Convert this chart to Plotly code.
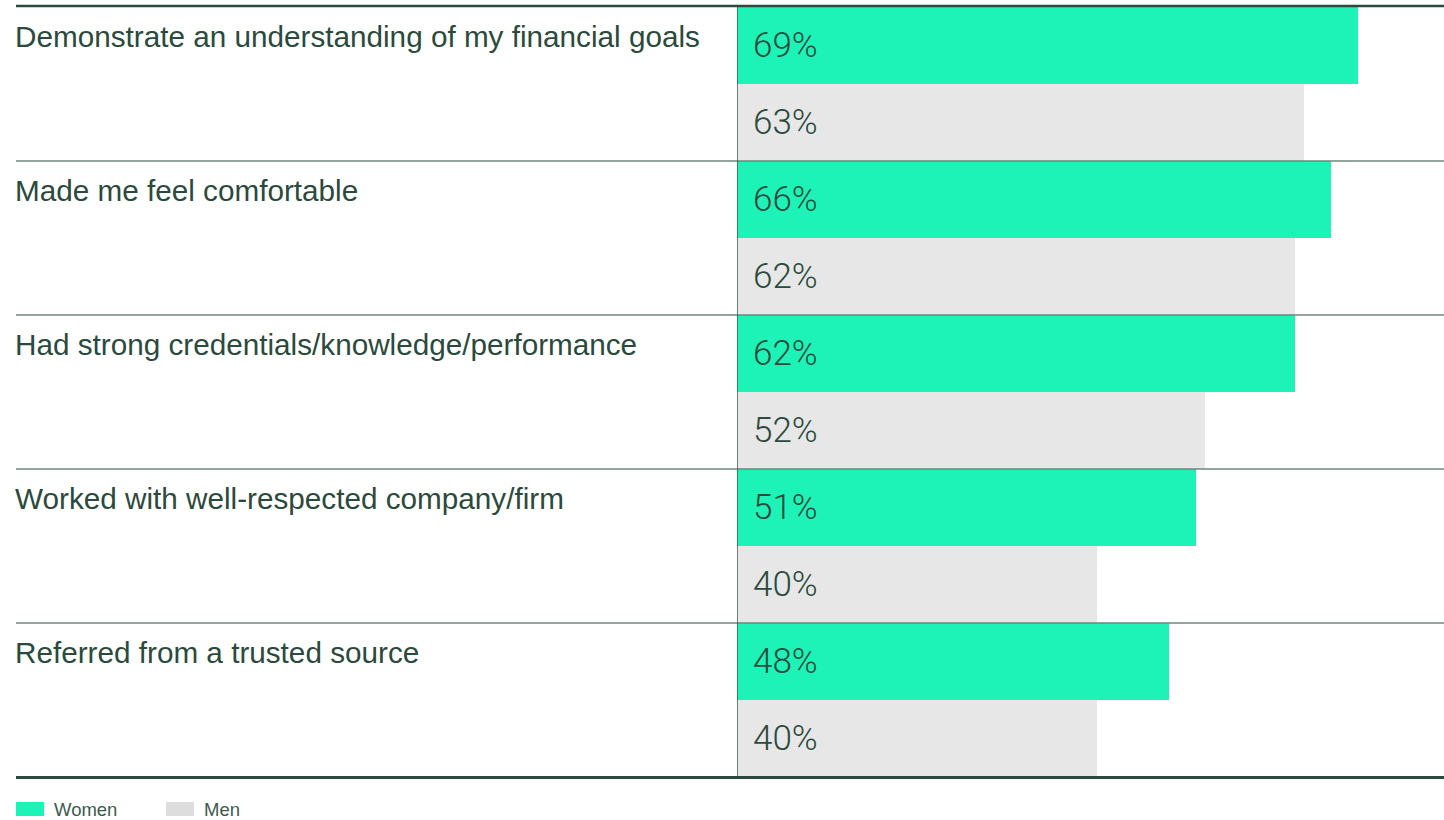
import plotly.graph_objects as go

categories = [
    "Demonstrate an understanding of my financial goals",
    "Made me feel comfortable",
    "Had strong credentials/knowledge/performance",
    "Worked with well-respected company/firm",
    "Referred from a trusted source",
]
women = [69, 66, 62, 51, 48]
men = [63, 62, 52, 40, 40]
series_names = ["Women", "Men"]

GREEN = "#1df3b7"
GREY = "#e7e7e7"
DARK = "#2b4a3d"
SEP = "#71847a"

W, H = 1444, 820
L, R, T, B = 737, 0, 7, 43
PW = W - L - R
PH = H - T - B
XMAX = PW / 9.0


def px_x(p):
    return (p - L) / PW


def px_y(p):
    return (H - B - p) / PH


fig = go.Figure()
fig.add_trace(go.Bar(name=series_names[0], y=categories, x=women, orientation="h",
                     marker=dict(color=GREEN, line=dict(width=0)), hoverinfo="x+name"))
fig.add_trace(go.Bar(name=series_names[1], y=categories, x=men, orientation="h",
                     marker=dict(color=GREY, line=dict(width=0)), hoverinfo="x+name"))

annotations = []
shapes = []
n = len(categories)
for i, cat in enumerate(categories):
    annotations.append(dict(x=px_x(13), xref="paper", y=i - 0.5, yref="y",
                            text=cat, showarrow=False, xanchor="left", yanchor="top",
                            yshift=-11, font=dict(family="Liberation Sans, Arial", size=29.7, color=DARK)))
    for off, vals in ((-0.25, women), (0.25, men)):
        annotations.append(dict(x=0, xref="x", y=i + off, yref="y",
                                text=f"{vals[i]}%", showarrow=False, xanchor="left",
                                yanchor="middle", xshift=14,
                                font=dict(family="Roboto, Noto Sans", size=35, weight=300, color=DARK)))
    if i < n - 1:
        shapes.append(dict(type="line", xref="paper", yref="y", x0=px_x(16), x1=1,
                           y0=i + 0.5, y1=i + 0.5, line=dict(color=SEP, width=1.3)))

# vertical axis line
shapes.append(dict(type="line", xref="x", yref="paper", x0=0, x1=0, y0=0, y1=1,
                   line=dict(color=DARK, width=1.3)))
# top and bottom rules
shapes.append(dict(type="line", xref="paper", yref="paper", x0=px_x(16), x1=1,
                   y0=px_y(6), y1=px_y(6), line=dict(color=DARK, width=2.5)))
shapes.append(dict(type="line", xref="paper", yref="paper", x0=px_x(16), x1=1,
                   y0=px_y(777.5), y1=px_y(777.5), line=dict(color=DARK, width=3)))

# legend
legend_items = [(series_names[0], GREEN, 16, 52), (series_names[1], "#dcdddc", 166, 202)]
for name, col, sx, tx in legend_items:
    shapes.append(dict(type="rect", xref="paper", yref="paper", x0=px_x(sx), x1=px_x(sx + 28),
                       y0=px_y(802), y1=px_y(816), fillcolor=col, line=dict(width=0)))
    annotations.append(dict(x=px_x(tx), xref="paper", y=px_y(809.5), yref="paper", text=name,
                            showarrow=False, xanchor="left", yanchor="middle",
                            font=dict(family="Liberation Sans, Arial", size=18.5, color="#3d5a4e")))

fig.update_layout(
    width=W, height=H,
    margin=dict(l=L, r=R, t=T, b=B, pad=0),
    barmode="group", bargap=0, bargroupgap=0,
    plot_bgcolor="white", paper_bgcolor="white",
    showlegend=False,
    xaxis=dict(range=[0, XMAX], visible=False, fixedrange=True),
    yaxis=dict(range=[n - 0.5, -0.5], autorange=False, visible=False, fixedrange=True),
    annotations=annotations, shapes=shapes,
)

fig.write_html("out.html", config={"displayModeBar": False},
               post_script="document.body.style.margin='0';document.body.style.overflow='hidden';")
